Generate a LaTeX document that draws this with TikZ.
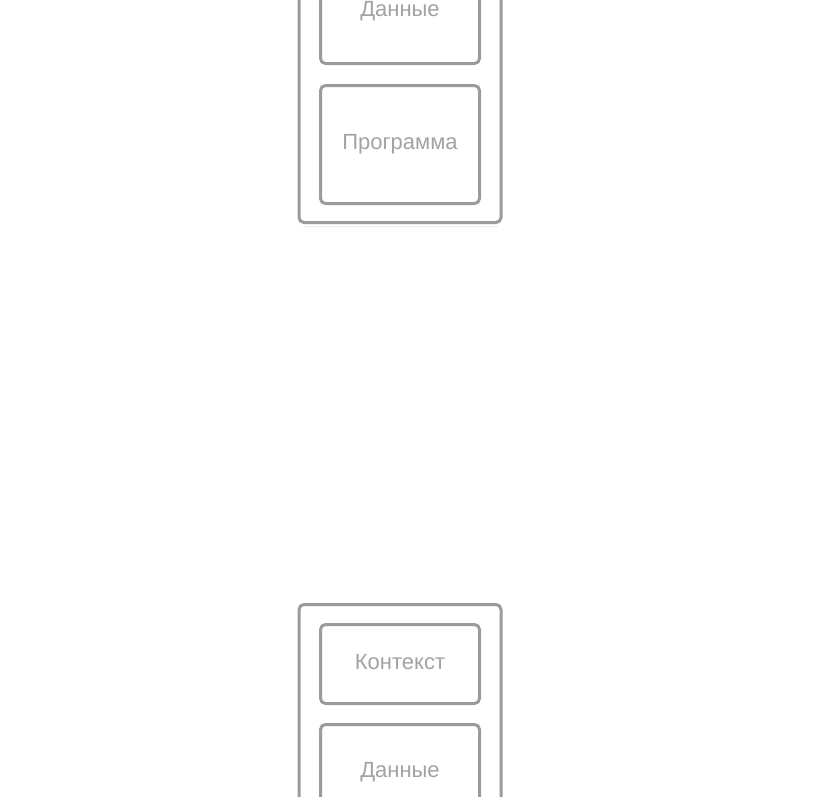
\documentclass[tikz,border=0pt]{standalone}
\usepackage{fontspec}
\setmainfont{Liberation Sans}
\definecolor{boxgray}{HTML}{9B9B9B}
\definecolor{textgray}{HTML}{A2A2A2}
\definecolor{faint}{HTML}{ECECEC}
\tikzset{
  container/.style={draw=boxgray, line width=3pt, rounded corners=5pt, minimum width=202pt, inner sep=0pt},
  part/.style={draw=boxgray, line width=3pt, rounded corners=5pt, minimum width=159pt, inner sep=0pt},
  lbl/.style={text=textgray, font=\fontsize{22}{25}\selectfont, inner sep=0pt}
}
\begin{document}
\begin{tikzpicture}[x=1pt,y=-1pt]
\useasboundingbox (0,0) rectangle (840,796);
\clip (0,0) rectangle (840,796);
% top container (cut by the top edge)
\node[container, minimum height=378pt] (topc) at (400,33.5) {};
\node[part, minimum height=100pt] (topdata) at (400,13.5) {};
\node[lbl] (topdatalbl) at (400,11.5) {Данные};
\node[part, minimum height=118pt] (prog) at (400,144.5) {};
\node[lbl] (proglbl) at (400,144.5) {Программа};
\draw[faint, line width=1.5pt] ([xshift=5pt,yshift=-2.5pt]topc.south west) coordinate (fa) -- ([xshift=-5pt,yshift=-2.5pt]topc.south east) coordinate (fb);
% bottom container (cut by the bottom edge)
\node[container, minimum height=378pt] (botc) at (400,793.5) {};
\node[part, minimum height=79pt] (ctx) at (400,664) {};
\node[lbl] (ctxlbl) at (400,662.5) {Контекст};
\node[part, minimum height=100pt] (botdata) at (400,774.5) {};
\node[lbl] (botdatalbl) at (400,772.5) {Данные};
\end{tikzpicture}
\end{document}
